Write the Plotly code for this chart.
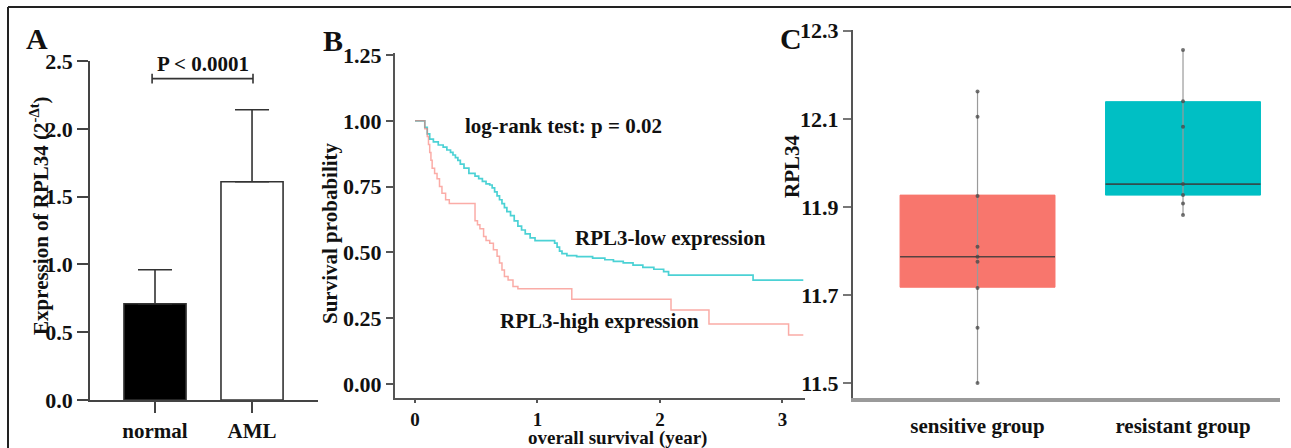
import plotly.graph_objects as go

# ---------------- data ----------------
# Panel A
groups_a = ["normal", "AML"]
expr_mean = [0.71, 1.61]
expr_err = [0.25, 0.53]
sig_y = 2.37
sig_text = "P < 0.0001"

# Panel B (Kaplan-Meier step points)
low_t = [0, 0.08, 0.10, 0.12, 0.15, 0.19, 0.23, 0.26, 0.29, 0.31, 0.33, 0.35, 0.37, 0.40, 0.44,
         0.49, 0.52, 0.55, 0.58, 0.61, 0.63, 0.65, 0.67, 0.69, 0.71, 0.73, 0.75, 0.78, 0.81, 0.84,
         0.87, 0.90, 0.94, 0.98, 1.14, 1.16, 1.18, 1.20, 1.24, 1.32, 1.45, 1.55, 1.62, 1.70, 1.78,
         1.86, 1.95, 2.03, 2.07, 2.76, 3.17]
low_s = [1.00, 0.975, 0.95, 0.93, 0.92, 0.908, 0.90, 0.889, 0.88, 0.87, 0.86, 0.85, 0.835, 0.82, 0.80,
         0.79, 0.78, 0.77, 0.76, 0.756, 0.745, 0.73, 0.715, 0.70, 0.685, 0.67, 0.655, 0.64, 0.62, 0.60,
         0.585, 0.57, 0.555, 0.545, 0.535, 0.52, 0.505, 0.495, 0.488, 0.484, 0.478, 0.472, 0.466, 0.46, 0.452,
         0.443, 0.436, 0.427, 0.414, 0.395, 0.395]
high_t = [0, 0.08, 0.10, 0.11, 0.12, 0.13, 0.14, 0.16, 0.18, 0.20, 0.22, 0.25, 0.28, 0.49, 0.51, 0.53,
          0.56, 0.58, 0.61, 0.64, 0.67, 0.69, 0.71, 0.73, 0.76, 0.80, 0.84, 1.28, 2.09, 2.40, 3.05, 3.17]
high_s = [1.00, 0.97, 0.94, 0.91, 0.88, 0.85, 0.82, 0.80, 0.78, 0.75, 0.725, 0.70, 0.686, 0.62, 0.605, 0.59,
          0.56, 0.545, 0.535, 0.51, 0.485, 0.46, 0.433, 0.408, 0.395, 0.37, 0.362, 0.322, 0.281, 0.228, 0.186, 0.186]
surv_yticks = [0, 0.25, 0.5, 0.75, 1.0, 1.25]
surv_xticks = [0, 1, 2, 3]

# Panel C
groups_c = ["sensitive group", "resistant group"]
box_q1 = [11.718, 11.927]
box_median = [11.787, 11.952]
box_q3 = [11.927, 12.139]
box_low = [11.50, 11.882]
box_high = [12.162, 12.256]
pts_sensitive = [12.162, 12.105, 11.925, 11.81, 11.787, 11.776, 11.716, 11.626, 11.501]
pts_resistant = [12.256, 12.14, 12.082, 11.952, 11.927, 11.908, 11.882]
c_yticks = [11.5, 11.7, 11.9, 12.1, 12.3]

# ---------------- style ----------------
FONT = "Liberation Serif"
W, H = 1291, 448
RED = "#F8766D"
TEAL = "#00BFC4"
DARK = "#333333"
BOX_FILLS = [RED, TEAL]


def px_x(p):
    return p / W


def px_y(p):
    return (H - p) / H


fig = go.Figure()

# ---- Panel A ----
fig.add_trace(go.Bar(
    x=[0, 1], y=expr_mean, width=0.64,
    marker=dict(color=["#000000", "#ffffff"], line=dict(color=DARK, width=1.6)),
    error_y=dict(type="data", symmetric=False, array=expr_err, arrayminus=[0, 0],
                 color=DARK, thickness=1.6, width=17),
    xaxis="x", yaxis="y", showlegend=False, hoverinfo="skip"))
fig.add_trace(go.Scatter(
    x=[-0.03, 1.01], y=[sig_y, sig_y], mode="lines+markers",
    line=dict(color=DARK, width=1.6),
    marker=dict(symbol="line-ns", size=7, line=dict(color=DARK, width=1.6)),
    xaxis="x", yaxis="y", showlegend=False, hoverinfo="skip"))

# ---- Panel B ----
fig.add_trace(go.Scatter(
    x=low_t, y=low_s, mode="lines", line=dict(shape="hv", color=TEAL, width=1.7),
    opacity=0.7, xaxis="x2", yaxis="y2", showlegend=False, hoverinfo="skip"))
fig.add_trace(go.Scatter(
    x=high_t, y=high_s, mode="lines", line=dict(shape="hv", color=RED, width=1.5),
    opacity=0.6, xaxis="x2", yaxis="y2", showlegend=False, hoverinfo="skip"))

# ---- Panel C ----
BOXW = 0.754
for i in range(2):
    fig.add_trace(go.Scatter(
        x=[i, i], y=[box_low[i], box_high[i]], mode="lines",
        line=dict(color="#9a9a9a", width=1.2),
        xaxis="x3", yaxis="y3", showlegend=False, hoverinfo="skip"))
for i in range(2):
    fig.add_trace(go.Box(
        x=[i], q1=[box_q1[i]], median=[box_median[i]], q3=[box_q3[i]],
        lowerfence=[box_q1[i]], upperfence=[box_q3[i]], width=BOXW,
        fillcolor=BOX_FILLS[i], line=dict(color=BOX_FILLS[i], width=1), whiskerwidth=0,
        xaxis="x3", yaxis="y3", showlegend=False, hoverinfo="skip"))
for i in range(2):
    fig.add_trace(go.Scatter(
        x=[i - BOXW / 2, i + BOXW / 2], y=[box_median[i], box_median[i]], mode="lines",
        line=dict(color="#3a3a3a", width=1.6), opacity=0.85,
        xaxis="x3", yaxis="y3", showlegend=False, hoverinfo="skip"))
fig.add_trace(go.Scatter(
    x=[0] * len(pts_sensitive) + [1] * len(pts_resistant), y=pts_sensitive + pts_resistant,
    mode="markers", marker=dict(color="#444444", size=4, opacity=0.75),
    xaxis="x3", yaxis="y3", showlegend=False, hoverinfo="skip"))

tickfont = dict(family=FONT, size=22, color="#111111", weight="bold")
tickfont_bx = dict(family=FONT, size=19, color="#111111", weight="bold")
catfont = dict(family=FONT, size=21, color="#111111", weight="bold")
common_axis = dict(showgrid=False, zeroline=False, showline=True, ticks="outside", automargin=False)

fig.update_layout(
    template="none",
    width=W, height=H, autosize=False,
    margin=dict(l=0, r=0, t=0, b=0, pad=0),
    paper_bgcolor="white", plot_bgcolor="rgba(0,0,0,0)",
    font=dict(family=FONT, color="#111111"),
    xaxis=dict(domain=[px_x(90), px_x(318)], range=[-0.67, 1.68], anchor="y",
               tickvals=[0, 1], ticktext=groups_a, linecolor="#444", linewidth=1.6,
               tickcolor="#444", tickwidth=1.6, ticklen=11, tickfont=catfont,
               **common_axis),
    yaxis=dict(domain=[px_y(400), px_y(61)], range=[0, 2.5], anchor="x",
               tickvals=[0, 0.5, 1.0, 1.5, 2.0, 2.5], tickformat=".1f",
               linecolor="#444", linewidth=1.6, tickcolor="#444", tickwidth=1.6, ticklen=11,
               tickfont=tickfont, **common_axis),
    xaxis2=dict(domain=[px_x(395), px_x(805)], range=[-0.1633, 3.184], anchor="y2",
                tickvals=surv_xticks, linecolor="#555", linewidth=2, tickcolor="#555",
                tickwidth=1.6, ticklen=3, tickfont=tickfont_bx, **common_axis),
    yaxis2=dict(domain=[px_y(397.7), px_y(53)], range=[-0.0521, 1.2576], anchor="x2",
                tickvals=surv_yticks, tickformat=".2f", linecolor="#555", linewidth=2,
                tickcolor="#555", tickwidth=1.6, ticklen=7, tickfont=tickfont, **common_axis),
    xaxis3=dict(domain=[px_x(853), px_x(1280)], range=[-0.606, 1.472], anchor="y3",
                tickvals=[0, 1], ticktext=groups_c, linecolor="#9a9a9a", linewidth=3.5,
                showgrid=False, zeroline=False, showline=True, ticks="", automargin=False,
                ticklabelstandoff=6, tickfont=catfont),
    yaxis3=dict(domain=[px_y(398), px_y(30)], range=[11.4667, 12.3016], anchor="x3",
                tickvals=c_yticks, tickformat=".1f", linecolor="#555", linewidth=2,
                tickcolor="#777", tickwidth=1.6, ticklen=8, tickfont=tickfont, **common_axis),
)

ann_font = dict(family=FONT, size=21, color="#111111", weight="bold")
title_b_font = dict(family=FONT, size=19, color="#111111", weight="bold")
letter_font = dict(family=FONT, size=30, color="#111111", weight="bold")
annotations = [
    # panel letters
    dict(text="A", x=px_x(37), y=px_y(38), font=letter_font),
    dict(text="B", x=px_x(333), y=px_y(40), font=letter_font),
    dict(text="C", x=px_x(791), y=px_y(38), font=letter_font),
    # panel A
    dict(text=sig_text, x=px_x(203), y=px_y(64), font=ann_font),
    dict(text="Expression of RPL34 (2<sup>-Δt</sup>)", x=px_x(40), y=px_y(216),
         textangle=-90, font=ann_font),
    # panel B
    dict(text="log-rank test: p = 0.02", x=px_x(563), y=px_y(126), font=ann_font),
    dict(text="RPL3-low expression", x=px_x(670), y=px_y(238), font=ann_font),
    dict(text="RPL3-high expression", x=px_x(599), y=px_y(321), font=ann_font),
    dict(text="Survival probability", x=px_x(330), y=px_y(233), textangle=-90, font=ann_font),
    dict(text="overall survival (year)", x=px_x(617), y=px_y(438), font=title_b_font),
    # panel C
    dict(text="RPL34", x=px_x(792), y=px_y(166), textangle=-90, font=ann_font),
]
for a in annotations:
    a.update(xref="paper", yref="paper", showarrow=False, xanchor="center", yanchor="middle")
fig.update_layout(annotations=annotations)

# figure frame (top and left edges)
fig.add_shape(type="line", xref="paper", yref="paper", x0=px_x(8), x1=1, y0=px_y(7), y1=px_y(7),
              line=dict(color="#222222", width=2))
fig.add_shape(type="line", xref="paper", yref="paper", x0=px_x(8), x1=px_x(8), y0=0, y1=px_y(7),
              line=dict(color="#222222", width=2))

fig.write_html(
    "out.html",
    config={"displayModeBar": False},
    post_script=("document.documentElement.style.margin='0';"
                 "document.documentElement.style.overflow='hidden';"
                 "document.body.style.margin='0';"
                 "document.body.style.overflow='hidden';"),
)
